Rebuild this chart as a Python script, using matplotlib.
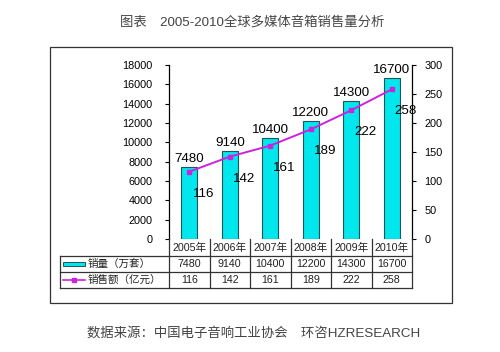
import matplotlib
matplotlib.use('Agg')
import matplotlib.pyplot as plt
from matplotlib.patches import Rectangle

plt.rcParams['font.family'] = ['Liberation Sans', 'Noto Sans CJK SC', 'DejaVu Sans']

# data
years = ['2005年', '2006年', '2007年', '2008年', '2009年', '2010年']
sales = [7480, 9140, 10400, 12200, 14300, 16700]      # 销量（万套）
revenue = [116, 142, 161, 189, 222, 258]              # 销售额（亿元）
row_labels = ['销量（万套）', '销售额（亿元）']
left_ticks = [0, 2000, 4000, 6000, 8000, 10000, 12000, 14000, 16000, 18000]
right_ticks = [0, 50, 100, 150, 200, 250, 300]
title = '图表　2005-2010全球多媒体音箱销售量分析'
source = '数据来源：中国电子音响工业协会　环咨HZRESEARCH'

W, H = 500, 352
bar_color = '#00E8EE'
line_color = '#CC22DD'


def fx(px):
    return px / W


def fy(py):
    return 1 - py / H


fig = plt.figure(figsize=(5, 3.52), dpi=100)
fig.patch.set_facecolor('white')

# outer frame
fig.add_artist(Rectangle((fx(50), fy(303)), fx(452) - fx(50), fy(47) - fy(303),
                         transform=fig.transFigure, fill=False, ec='#333333', lw=0.9))

# plot area
ax = fig.add_axes([fx(169), fy(239), fx(412) - fx(169), fy(65) - fy(239)])
x = list(range(len(years)))
ax.bar(x, sales, width=0.4, color=bar_color, edgecolor='#225555', linewidth=0.8, zorder=2)
ax.set_xlim(-0.5, len(years) - 0.5)
ax.set_ylim(0, 18000)
ax.set_yticks(left_ticks)
ax.set_xticks([])
for s in ['top', 'bottom']:
    ax.spines[s].set_visible(False)
ax.spines['left'].set_linewidth(0.9)
ax.spines['right'].set_visible(False)
ax.tick_params(axis='y', direction='out', length=3, width=0.8, labelsize=7.8, pad=9)
for xi, v in zip(x, sales):
    ax.annotate(str(v), (xi, v), xytext=(0, 2), textcoords='offset pixels',
                ha='center', va='bottom', fontsize=9.6, zorder=5)

ax2 = ax.twinx()
ax2.plot(x, revenue, color=line_color, lw=1.4, marker='s', ms=3.5,
         mfc=line_color, mec=line_color, zorder=3)
ax2.set_ylim(0, 300)
ax2.set_yticks(right_ticks)
for s in ['top', 'bottom', 'left']:
    ax2.spines[s].set_visible(False)
ax2.spines['right'].set_linewidth(0.9)
ax2.tick_params(axis='y', direction='out', length=3, width=0.8, labelsize=7.8, pad=6)
for xi, v in zip(x, revenue):
    ax2.annotate(str(v), (xi, v), xytext=(14, -22), textcoords='offset pixels',
                 ha='center', va='center', fontsize=9.6, zorder=5)

# data table under the plot
tab = fig.add_axes([fx(60), fy(288), fx(412) - fx(60), fy(239) - fy(288)])
tab.set_xlim(60, 412)
tab.set_ylim(288, 239)
tab.axis('off')
col_w = (412 - 169) / len(years)
rows_y = [239, 256, 272, 288]
grid_kw = dict(color='#333333', lw=0.9)
for yy in rows_y[1:]:
    tab.plot([60, 412], [yy, yy], **grid_kw, clip_on=False)
for i in range(len(years) + 1):
    xx = 169 + i * col_w
    tab.plot([xx, xx], [239, 288], **grid_kw, clip_on=False)
tab.plot([60, 60], [256, 288], **grid_kw, clip_on=False)

cell_font = dict(ha='center', va='center', fontsize=7.7, color='#222222')
for i, yr in enumerate(years):
    cx = 169 + (i + 0.5) * col_w
    tab.text(cx, (rows_y[0] + rows_y[1]) / 2, yr, **cell_font)
    tab.text(cx, (rows_y[1] + rows_y[2]) / 2, str(sales[i]), **cell_font)
    tab.text(cx, (rows_y[2] + rows_y[3]) / 2, str(revenue[i]), **cell_font)

# legend keys inside the table
r1 = (rows_y[1] + rows_y[2]) / 2
r2 = (rows_y[2] + rows_y[3]) / 2
tab.add_patch(Rectangle((63, r1 - 2), 22, 4, fc=bar_color, ec='#225555', lw=0.7))
tab.plot([63, 85], [r2, r2], color=line_color, lw=1.2)
tab.plot([74], [r2], marker='s', ms=3, color=line_color)
tab.text(88, r1, row_labels[0], ha='left', va='center', fontsize=7.6, color='#222222')
tab.text(88, r2, row_labels[1], ha='left', va='center', fontsize=7.6, color='#222222')

# title and source
fig.text(fx(252), fy(22), title, ha='center', va='center', fontsize=9.6, color='#444444')
fig.text(fx(254), fy(333), source, ha='center', va='center', fontsize=9.6, color='#444444')

fig.savefig('out.png', dpi=100, facecolor='white')
